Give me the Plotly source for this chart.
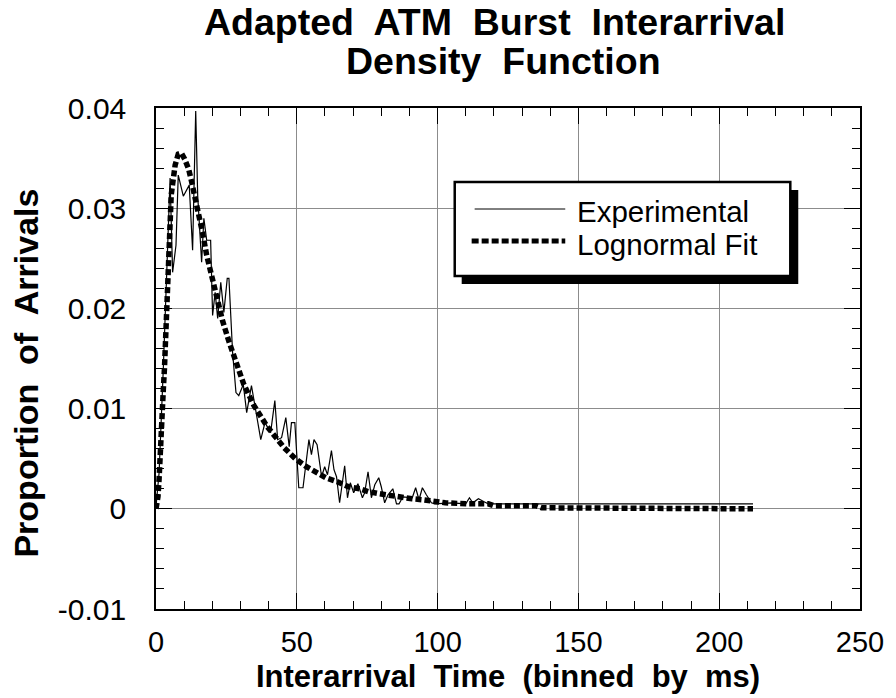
import plotly.graph_objects as go

# ---------------- data ----------------
exp_x = [0, 1.1, 2.6, 3.8, 4.4, 5.0, 5.9, 7.1, 7.9, 9.7,
         11.8, 13.0, 14.1, 14.8, 16.2, 17.0, 18.0, 19.4, 20.1, 21.0,
         21.9, 23.0, 24.1, 25.3, 25.9, 27.2, 28.4, 29.4, 31.0, 32.2,
         33.9, 35.5, 37.2, 38.7, 40.7, 42.2, 43.2, 44.6, 46.1, 47.3,
         48.1, 49.3, 50.7, 52.2, 54.3, 55.2, 56.1, 57.2, 58.8, 59.9,
         60.9, 62.3, 63.2, 64.1, 65.2, 67.0, 68.0, 69.0, 70.2, 71.7,
         73.3, 74.1, 75.3, 76.5, 77.7, 79.1, 80.0, 81.2, 82.4, 84.1,
         85.4, 86.3, 87.7, 91.0, 92.2, 93.4, 94.6, 96.0, 97.8, 99.0,
         105, 110, 111.3, 112.5, 114.5, 116.5, 118, 135, 160, 190,
         212]
exp_y = [0.0002, 0.0036, 0.0140, 0.0227, 0.0270, 0.0330, 0.0236, 0.0263, 0.0333, 0.0312,
         0.0323, 0.0258, 0.0397, 0.0313, 0.0246, 0.0290, 0.0268, 0.0268, 0.0193, 0.0216,
         0.0190, 0.0226, 0.0196, 0.0230, 0.0230, 0.0156, 0.0116, 0.0113, 0.0124, 0.0096,
         0.0123, 0.0096, 0.0069, 0.0086, 0.0076, 0.0108, 0.0069, 0.0071, 0.0091, 0.0062,
         0.0086, 0.0086, 0.0021, 0.0021, 0.0069, 0.0054, 0.0069, 0.0064, 0.0032, 0.0042,
         0.0034, 0.0058, 0.0039, 0.0032, 0.0006, 0.0043, 0.0011, 0.0026, 0.0016, 0.0025,
         0.0011, 0.0016, 0.0037, 0.0011, 0.0024, 0.0031, 0.0022, 0.0006, 0.0014, 0.0020,
         0.0005, 0.0005, 0.0012, 0.0011, 0.0021, 0.0009, 0.0021, 0.0014, 0.0006, 0.0005,
         0.0006, 0.0005, 0.0011, 0.0006, 0.0010, 0.0007, 0.0005, 0.0005, 0.0005, 0.0005,
         0.0005]

fit_x = [0, 0.7, 1.1, 1.4, 1.8, 2.2, 2.6, 3.0, 3.3, 3.5,
         3.8, 4.0, 4.3, 4.6, 5.0, 5.4, 5.9, 6.4, 6.8, 7.9,
         9.0, 10.2, 11.6, 12.6, 13.5, 15.0, 16.5, 18.0, 19.9, 21.5,
         23.6, 25.9, 28.3, 31.2, 34.8, 39.5, 45.5, 49.5, 53.4, 56.6,
         60.3, 64.4, 68.4, 72.3, 75.6, 79.4, 83.5, 87.3, 90.9, 94.8,
         98.7, 102.7, 110, 118, 120, 135, 137, 190, 192, 212]
fit_y = [0.0, 0.0012, 0.0030, 0.0054, 0.0076, 0.0098, 0.0119, 0.0140, 0.0160, 0.0183,
         0.0205, 0.0227, 0.0248, 0.0270, 0.0292, 0.0313, 0.0324, 0.0334, 0.0343, 0.0354,
         0.0355, 0.0349, 0.0339, 0.0327, 0.0316, 0.0295, 0.0276, 0.0253, 0.0231, 0.0210,
         0.0188, 0.0167, 0.0146, 0.0124, 0.0103, 0.0082, 0.0061, 0.0050, 0.0042, 0.0037,
         0.0031, 0.0027, 0.0022, 0.0020, 0.0017, 0.0015, 0.0013, 0.0011, 0.0010, 0.0009,
         0.0007, 0.0006, 0.0005, 0.0005, 0.0003, 0.0003, 0.0001, 0.0001, 0.0, 0.0]

x_tickvals = [0, 50, 100, 150, 200, 250]
x_ticktext = ["0", "50", "100", "150", "200", "250"]
y_tickvals = [-0.01, 0.0, 0.01, 0.02, 0.03, 0.04]
y_ticktext = ["-0.01", "0", "0.01", "0.02", "0.03", "0.04"]

series_names = ["Experimental", "Lognormal Fit"]
title_lines = ["Adapted\u00a0 ATM\u00a0 Burst\u00a0 Interarrival", "Density\u00a0 Function"]
x_title = "Interarrival\u00a0 Time\u00a0 (binned\u00a0 by\u00a0 ms)"
y_title = "Proportion\u00a0 of\u00a0 Arrivals"

# ---------------- layout geometry ----------------
W, H = 896, 698
L, R, T, B = 156, 33, 108, 89
PW, PH = W - L - R, H - T - B
FONT = "Liberation Sans, Arial, Helvetica, sans-serif"


def px(xp):
    return (xp - L) / PW


def py(yp):
    return (H - B - yp) / PH


fig = go.Figure()
fig.add_trace(go.Scatter(x=exp_x, y=exp_y, mode="lines", name=series_names[0],
                         line=dict(color="black", width=1.2), showlegend=False))
fig.add_trace(go.Scatter(x=fit_x, y=fit_y, mode="lines", name=series_names[1],
                         line=dict(color="black", width=5.5, dash="6px,3px"),
                         showlegend=False))

axis_common = dict(
    showline=True, linecolor="black", linewidth=1.5, mirror="allticks",
    ticks="inside", ticklen=16, tickwidth=1.2, tickcolor="black",
    showgrid=True, gridcolor="#8c8c8c", gridwidth=1, zeroline=False,
)
fig.update_xaxes(range=[0, 250], tickmode="array", tickvals=x_tickvals, ticktext=x_ticktext,
                 minor=dict(dtick=10, tick0=0, ticks="inside", ticklen=8, tickcolor="black",
                            showgrid=False),
                 tickfont=dict(family=FONT, size=29, color="black"),
                 ticklabelstandoff=6, **axis_common)
fig.update_yaxes(range=[-0.01, 0.04], tickmode="array", tickvals=y_tickvals, ticktext=y_ticktext,
                 minor=dict(dtick=0.002, tick0=0, ticks="inside", ticklen=8, tickcolor="black",
                            showgrid=False),
                 tickfont=dict(family=FONT, size=30, color="black"),
                 ticklabelstandoff=22, **axis_common)

annotations = [
    dict(text="<b>%s</b>" % title_lines[0], x=px(496), y=py(22), xref="paper", yref="paper",
         xanchor="center", yanchor="middle", showarrow=False,
         font=dict(family=FONT, size=37.5, color="black")),
    dict(text="<b>%s</b>" % title_lines[1], x=px(505), y=py(61), xref="paper", yref="paper",
         xanchor="center", yanchor="middle", showarrow=False,
         font=dict(family=FONT, size=37.5, color="black")),
    dict(text="<b>%s</b>" % x_title, x=px(510), y=py(676), xref="paper", yref="paper",
         xanchor="center", yanchor="middle", showarrow=False,
         font=dict(family=FONT, size=31, color="black")),
    dict(text="<b>%s</b>" % y_title, x=px(25), y=py(373), xref="paper", yref="paper",
         xanchor="center", yanchor="middle", showarrow=False, textangle=-90,
         font=dict(family=FONT, size=34, color="black")),
    dict(text=series_names[0], x=px(577), y=py(211), xref="paper", yref="paper",
         xanchor="left", yanchor="middle", showarrow=False,
         font=dict(family=FONT, size=29.5, color="black")),
    dict(text=series_names[1], x=px(577), y=py(244.5), xref="paper", yref="paper",
         xanchor="left", yanchor="middle", showarrow=False,
         font=dict(family=FONT, size=29.5, color="black")),
]

shapes = [
    # legend shadow
    dict(type="rect", xref="paper", yref="paper", x0=px(463), x1=px(801), y0=py(190), y1=py(284),
         fillcolor="black", line=dict(color="black", width=0), layer="above"),
    # legend box
    dict(type="rect", xref="paper", yref="paper", x0=px(456), x1=px(793), y0=py(182), y1=py(276),
         fillcolor="white", line=dict(color="black", width=2.5), layer="above"),
    # legend samples
    dict(type="line", xref="paper", yref="paper", x0=px(476), x1=px(567), y0=py(209), y1=py(209),
         line=dict(color="black", width=1), layer="above"),
    dict(type="line", xref="paper", yref="paper", x0=px(473), x1=px(567), y0=py(241), y1=py(241),
         line=dict(color="black", width=5, dash="7px,3px"), layer="above"),
]

fig.update_layout(
    width=W, height=H,
    margin=dict(l=L, r=R, t=T, b=B),
    paper_bgcolor="white", plot_bgcolor="white",
    showlegend=False,
    annotations=annotations, shapes=shapes,
    font=dict(family=FONT, color="black"),
)

fig.write_html("out.html")
